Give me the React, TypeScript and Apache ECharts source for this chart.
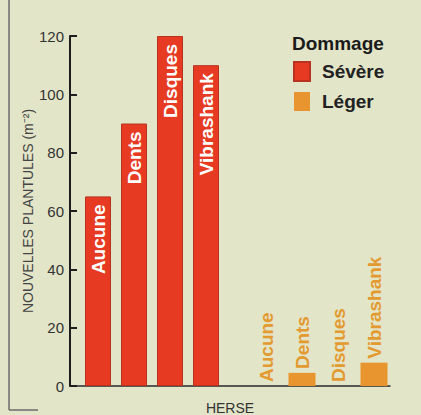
import React, { useEffect, useRef } from "react";
import * as echarts from "echarts";

const categories = ["Aucune", "Dents", "Disques", "Vibrashank"];
const severeValues = [65, 90, 120, 110];
const legerValues = [0, 4.5, 0, 8];
const yTicks = { min: 0, max: 120, interval: 20 };
const legendTitle = "Dommage";
const seriesNames = ["Sévère", "Léger"];
const xAxisName = "HERSE";
const yAxisName = "NOUVELLES PLANTULES (m⁻²)";

const FONT = "'Liberation Sans', Arial, Helvetica, sans-serif";
const BG = "#e3e5c8";
const RED = "#e63a22";
const ORANGE = "#e8952f";

export default function App() {
  const ref = useRef<HTMLDivElement>(null);
  useEffect(() => {
    if (!ref.current) return;
    const chart = echarts.init(ref.current, undefined, { renderer: "svg" });
    const gridTop = 36;
    const gridBottom = 29;
    const hiddenY = (gi: number) => ({
      type: "value",
      gridIndex: gi,
      min: yTicks.min,
      max: yTicks.max,
      interval: yTicks.interval,
      show: false,
    });
    const hiddenX = (gi: number) => ({
      type: "category",
      gridIndex: gi,
      data: categories,
      show: false,
    });
    chart.setOption({
      animation: false,
      backgroundColor: BG,
      textStyle: { fontFamily: FONT },
      grid: [
        { left: 70, right: 31, top: gridTop, bottom: gridBottom, outerBoundsMode: "none", containLabel: false },
        { left: 80, width: 144, top: gridTop, bottom: gridBottom, outerBoundsMode: "none", containLabel: false },
        { left: 248, width: 144, top: gridTop, bottom: gridBottom, outerBoundsMode: "none", containLabel: false },
      ],
      xAxis: [
        {
          type: "value",
          gridIndex: 0,
          min: 0,
          max: 1,
          axisLine: { show: true, lineStyle: { color: "#2a2a2a", width: 1.5 } },
          axisTick: { show: false },
          axisLabel: { show: false },
          splitLine: { show: false },
          name: xAxisName,
          nameLocation: "middle",
          nameGap: 15,
          nameMoveOverlap: false,
          nameTextStyle: { fontSize: 14, color: "#333", fontFamily: FONT },
        },
        hiddenX(1),
        hiddenX(2),
      ],
      yAxis: [
        {
          type: "value",
          gridIndex: 0,
          min: yTicks.min,
          max: yTicks.max,
          interval: yTicks.interval,
          axisLine: { show: true, lineStyle: { color: "#1e1e1e", width: 2 } },
          axisTick: { show: true, inside: true, length: 7, lineStyle: { color: "#1e1e1e", width: 2 } },
          axisLabel: { fontSize: 15, color: "#333", margin: 6, fontFamily: FONT },
          splitLine: { show: false },
          name: yAxisName,
          nameLocation: "middle",
          nameRotate: 90,
          nameGap: 35,
          nameMoveOverlap: false,
          nameTextStyle: { fontSize: 14, color: "#444", fontFamily: FONT },
        },
        hiddenY(1),
        hiddenY(2),
      ],
      legend: {
        orient: "vertical",
        left: 288,
        top: 56,
        itemWidth: 16,
        itemHeight: 19,
        itemGap: 10,
        icon: "rect",
        data: seriesNames,
        textStyle: {
          fontSize: 19,
          fontWeight: "bold",
          color: "#222",
          fontFamily: FONT,
          padding: [0, 0, 0, 7],
        },
      },
      graphic: [
        {
          type: "text",
          left: 292,
          top: 34,
          style: {
            text: legendTitle,
            fontSize: 19,
            fontWeight: "bold",
            fill: "#1a1a1a",
            fontFamily: FONT,
          },
        },
        {
          type: "line",
          shape: { x1: 9, y1: 0, x2: 9, y2: 410 },
          style: { stroke: "#6a6a6a", lineWidth: 1.5 },
        },
        {
          type: "line",
          shape: { x1: 9, y1: 410, x2: 38, y2: 410 },
          style: { stroke: "#6a6a6a", lineWidth: 1.5 },
        },
      ],
      series: [
        {
          name: seriesNames[0],
          type: "bar",
          xAxisIndex: 1,
          yAxisIndex: 1,
          data: severeValues.map((v, i) => ({
            value: v,
            label: { formatter: categories[i] },
          })),
          barWidth: 26,
          itemStyle: { color: RED, borderColor: "#b8321f", borderWidth: 1 },
          label: {
            show: true,
            position: "insideTop",
            rotate: 90,
            align: "right",
            verticalAlign: "middle",
            distance: 8,
            color: "#fff",
            fontSize: 19,
            fontWeight: "bold",
            fontFamily: FONT,
          },
        },
        {
          name: seriesNames[1],
          type: "bar",
          xAxisIndex: 2,
          yAxisIndex: 2,
          data: legerValues.map((v, i) => ({
            value: v,
            label: { formatter: categories[i] },
          })),
          barWidth: 27,
          itemStyle: { color: ORANGE, borderWidth: 0 },
          label: {
            show: true,
            position: "top",
            rotate: 90,
            align: "left",
            verticalAlign: "middle",
            distance: 4,
            color: "#e39a30",
            fontSize: 19,
            fontWeight: "bold",
            fontFamily: FONT,
          },
        },
      ],
    });
    return () => chart.dispose();
  }, []);
  return (
    <div
      ref={ref}
      style={{ position: "absolute", left: 0, top: 0, width: 421, height: 415, background: BG }}
    />
  );
}
